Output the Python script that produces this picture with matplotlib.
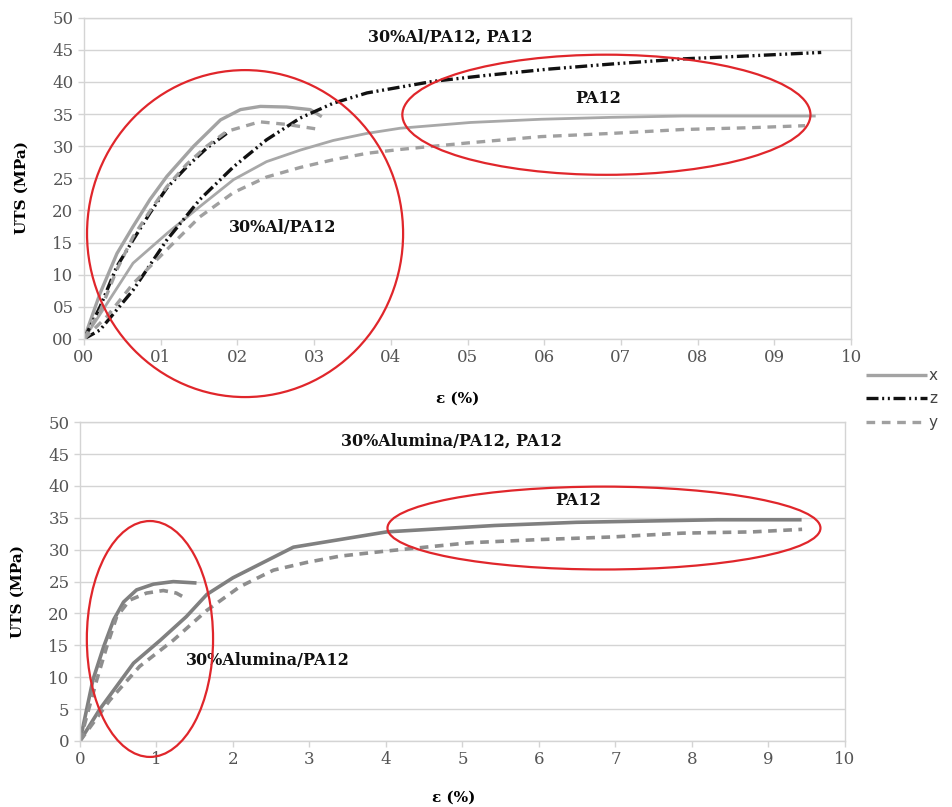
import matplotlib.pyplot as plt
import numpy as np
from matplotlib.patches import Ellipse

# ---- top chart: 30%Al/PA12 and PA12 ----
al_x_eps = [0, 0.21, 0.43, 0.64, 0.86, 1.08, 1.43, 1.78, 2.04, 2.30, 2.64, 2.95, 3.10]
al_x_uts = [0, 7.1, 13.3, 17.5, 21.7, 25.3, 30.0, 34.1, 35.7, 36.2, 36.1, 35.7, 34.6]
al_z_eps = [0, 0.21, 0.43, 0.64, 0.86, 1.08, 1.34, 1.60, 1.86]
al_z_uts = [0, 5.0, 11.3, 15.4, 19.6, 23.5, 26.8, 29.7, 32.0]
al_y_eps = [0, 0.22, 0.43, 0.64, 0.86, 1.08, 1.34, 1.60, 1.86, 2.29, 2.64, 3.08]
al_y_uts = [0, 4.6, 10.8, 15.9, 19.9, 23.7, 27.2, 30.0, 32.3, 33.8, 33.4, 32.6]

pa_x_eps = [0, 0.3, 0.64, 1.09, 1.51, 1.95, 2.38, 2.82, 3.25, 3.69, 4.12, 5.04, 5.96, 6.88, 7.80, 8.7, 9.52]
pa_x_uts = [0, 5.5, 11.8, 16.5, 20.6, 24.8, 27.6, 29.4, 30.9, 32.0, 32.8, 33.7, 34.2, 34.5, 34.7, 34.7, 34.7]
pa_z_eps = [0, 0.21, 0.64, 1.08, 1.51, 1.95, 2.38, 2.82, 3.25, 3.69, 4.12, 4.55, 5.22, 6.05, 6.88, 7.81, 8.73, 9.61]
pa_z_uts = [0, 1.4, 7.6, 15.4, 21.7, 26.8, 31.0, 34.4, 36.7, 38.3, 39.2, 40.1, 41.0, 42.0, 42.8, 43.6, 44.1, 44.6]
pa_y_eps = [0, 0.3, 0.64, 1.08, 1.51, 1.95, 2.38, 2.82, 3.25, 3.69, 4.12, 4.99, 5.96, 6.88, 7.80, 8.73, 9.40]
pa_y_uts = [0, 3.5, 8.6, 13.9, 19.0, 22.8, 25.2, 26.7, 27.9, 28.9, 29.5, 30.5, 31.5, 32.0, 32.6, 32.9, 33.2]

top_xticklabels = ["00", "01", "02", "03", "04", "05", "06", "07", "08", "09", "10"]
top_yticklabels = ["00", "05", "10", "15", "20", "25", "30", "35", "40", "45", "50"]

# ---- bottom chart: 30%Alumina/PA12 and PA12 ----
alu_x_eps = [0, 0.17, 0.31, 0.44, 0.57, 0.74, 0.96, 1.22, 1.50]
alu_x_uts = [0, 9.6, 14.8, 19.0, 21.8, 23.7, 24.6, 25.0, 24.8]
alu_y_eps = [0, 0.22, 0.35, 0.48, 0.65, 0.87, 1.09, 1.26, 1.35]
alu_y_uts = [0, 9.6, 14.8, 19.5, 22.1, 23.2, 23.6, 23.2, 22.6]

pb_x_eps = [0, 0.26, 0.70, 1.05, 1.39, 1.66, 2.00, 2.79, 4.01, 5.42, 6.49, 7.41, 8.33, 9.41]
pb_x_uts = [0, 5.0, 12.2, 15.8, 19.5, 23.0, 25.6, 30.4, 32.8, 33.8, 34.3, 34.5, 34.7, 34.7]
pb_y_eps = [0, 0.39, 0.78, 1.22, 1.66, 2.09, 2.53, 2.96, 3.40, 4.01, 5.10, 6.02, 6.95, 7.87, 8.79, 9.44]
pb_y_uts = [0, 6.4, 11.7, 15.8, 20.5, 24.2, 26.8, 28.0, 29.0, 29.8, 31.1, 31.6, 32.0, 32.6, 32.8, 33.2]

bottom_ticks = list(range(0, 11))
bottom_yticks = list(range(0, 51, 5))

series_names = ["x", "z", "y"]

serif = "DejaVu Serif"
grid_c = "#d4d4d4"
red = "#e0262b"
dashdotdot = (3.6, 1.1, 0.6, 1.1, 0.6, 1.1)

fig = plt.figure(figsize=(9.53, 8.07), dpi=100)
ax1 = fig.add_axes([0.0881, 0.580, 0.805, 0.398])
ax2 = fig.add_axes([0.0839, 0.0818, 0.8027, 0.395])


def style(ax, xt_labels, yt_labels):
    ax.set_xlim(0, 10)
    ax.set_ylim(0, 50)
    ax.set_xticks(range(11))
    ax.set_yticks(range(0, 51, 5))
    ax.set_xticklabels(xt_labels)
    ax.set_yticklabels(yt_labels)
    ax.grid(axis="y", color=grid_c, lw=1)
    ax.set_axisbelow(True)
    for s in ax.spines.values():
        s.set_color(grid_c)
        s.set_linewidth(1)
    ax.tick_params(colors=grid_c, length=4, width=1, labelcolor="#555555", labelsize=12)
    for lab in ax.get_xticklabels() + ax.get_yticklabels():
        lab.set_family(serif)
    ax.set_xlabel("ε (%)", family=serif, fontweight="bold", fontsize=11)
    ax.set_ylabel("UTS (MPa)", family=serif, fontweight="bold", fontsize=11)
    ax.yaxis.set_label_coords(-0.072, 0.47)


style(ax1, top_xticklabels, top_yticklabels)
ax1.xaxis.set_label_coords(0.487, -0.165)
style(ax2, [str(t) for t in bottom_ticks], [str(t) for t in bottom_yticks])
ax2.xaxis.set_label_coords(0.488, -0.157)

# top curves
lx, = ax1.plot(al_x_eps, al_x_uts, color="#a3a3a3", lw=2.4, solid_capstyle="butt")
ax1.plot(pa_x_eps, pa_x_uts, color="#a8a8a8", lw=2.0)
lz, = ax1.plot(pa_z_eps, pa_z_uts, color="#111111", lw=2.4, dashes=dashdotdot)
ax1.plot(al_z_eps, al_z_uts, color="#111111", lw=2.4, dashes=dashdotdot)
ly, = ax1.plot(pa_y_eps, pa_y_uts, color="#a0a0a0", lw=2.4, dashes=(2.6, 2.0))
ax1.plot(al_y_eps, al_y_uts, color="#a0a0a0", lw=2.4, dashes=(2.6, 2.0))

# bottom curves
ax2.plot(alu_x_eps, alu_x_uts, color="#808080", lw=2.6)
ax2.plot(pb_x_eps, pb_x_uts, color="#808080", lw=2.6)
ax2.plot(alu_y_eps, alu_y_uts, color="#8e8e8e", lw=2.6, dashes=(2.4, 1.8))
ax2.plot(pb_y_eps, pb_y_uts, color="#8e8e8e", lw=2.6, dashes=(2.4, 1.8))

# annotations
tkw = dict(family=serif, fontweight="bold", fontsize=11.5, ha="center", va="center", color="#111111")
ax1.text(4.77, 47.0, "30%Al/PA12, PA12", **tkw)
ax1.text(6.70, 37.4, "PA12", **tkw)
ax1.text(2.59, 17.3, "30%Al/PA12", **tkw)
ax2.text(4.85, 47.0, "30%Alumina/PA12, PA12", **tkw)
ax2.text(6.51, 37.8, "PA12", **tkw)
ax2.text(2.46, 12.7, "30%Alumina/PA12", **tkw)

for ax, (cx, cy, w, h) in [(ax1, (2.10, 16.4, 4.12, 50.9)), (ax1, (6.81, 34.9, 5.32, 18.7)),
                           (ax2, (0.915, 16.0, 1.65, 37.0)), (ax2, (6.85, 33.4, 5.66, 13.0))]:
    ax.add_patch(Ellipse((cx, cy), w, h, fill=False, edgecolor=red, lw=1.6,
                         clip_on=False, zorder=5))

leg = fig.legend([lx, lz, ly], series_names, loc="center left",
                 bbox_to_anchor=(0.897, 1 - 399 / 807), frameon=False,
                 handlelength=4.0, handletextpad=0.15, labelspacing=0.55,
                 fontsize=11, borderpad=0.2)
for t in leg.get_texts():
    t.set_color("#444444")

fig.savefig("out.png", dpi=100)
